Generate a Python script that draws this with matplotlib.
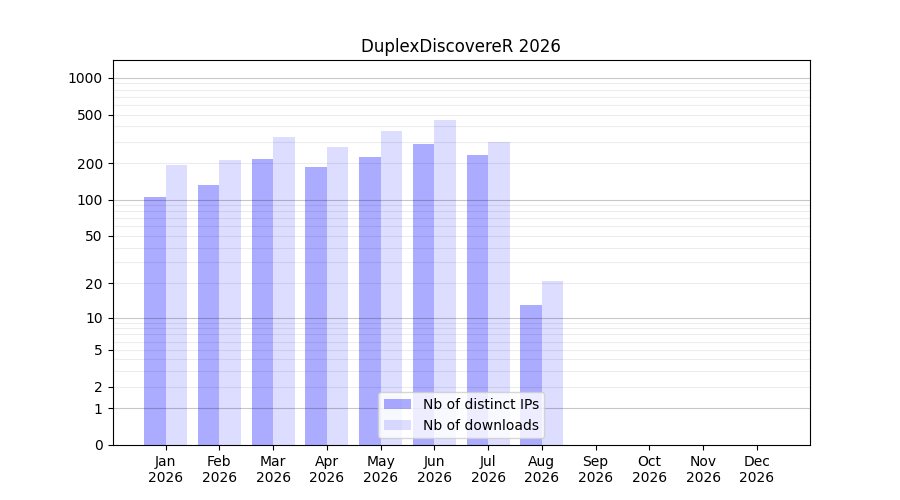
import numpy as np
import matplotlib
matplotlib.use("Agg")
import matplotlib.pyplot as plt

months = ["Jan", "Feb", "Mar", "Apr", "May", "Jun", "Jul", "Aug", "Sep", "Oct", "Nov", "Dec"]
year = "2026"
distinct_ips = [105, 133, 216, 187, 225, 289, 233, 13, 0, 0, 0, 0]
downloads = [192, 213, 328, 272, 367, 452, 298, 21, 0, 0, 0, 0]
ytick_values = [0, 1, 2, 5, 10, 20, 50, 100, 200, 500, 1000]
title = "DuplexDiscovereR 2026"


def fwd(x):
    x = np.asarray(x, dtype=float)
    return np.log10(np.maximum(x, 0) + 1)


def inv(y):
    return 10 ** np.asarray(y, dtype=float) - 1


fig, ax = plt.subplots(figsize=(9, 5), dpi=100)
x = np.arange(len(months))
w = 0.4
ax.bar(x - w / 2, distinct_ips, width=w, color="blue", alpha=0.33, label="Nb of distinct IPs")
ax.bar(x + w / 2, downloads, width=w, color="blue", alpha=0.135, label="Nb of downloads")

ax.set_yscale("function", functions=(fwd, inv))
ax.set_ylim(0, 1396)
ax.set_yticks(ytick_values)
ax.set_yticklabels([str(v) for v in ytick_values])
ax.minorticks_off()

for k in [0, 1, 2, 3]:
    base = 10 ** k
    ax.axhline(base, color="black", alpha=0.22, lw=0.8, zorder=1.5)
    if k < 3:
        for m in range(2, 10):
            ax.axhline(m * base, color="black", alpha=0.075, lw=0.8, zorder=1.5)

ax.set_xticks(x)
ax.set_xticklabels([f"{m}\n{year}" for m in months])
ax.set_title(title)
ax.legend(loc="lower center")

fig.savefig("out.png")
